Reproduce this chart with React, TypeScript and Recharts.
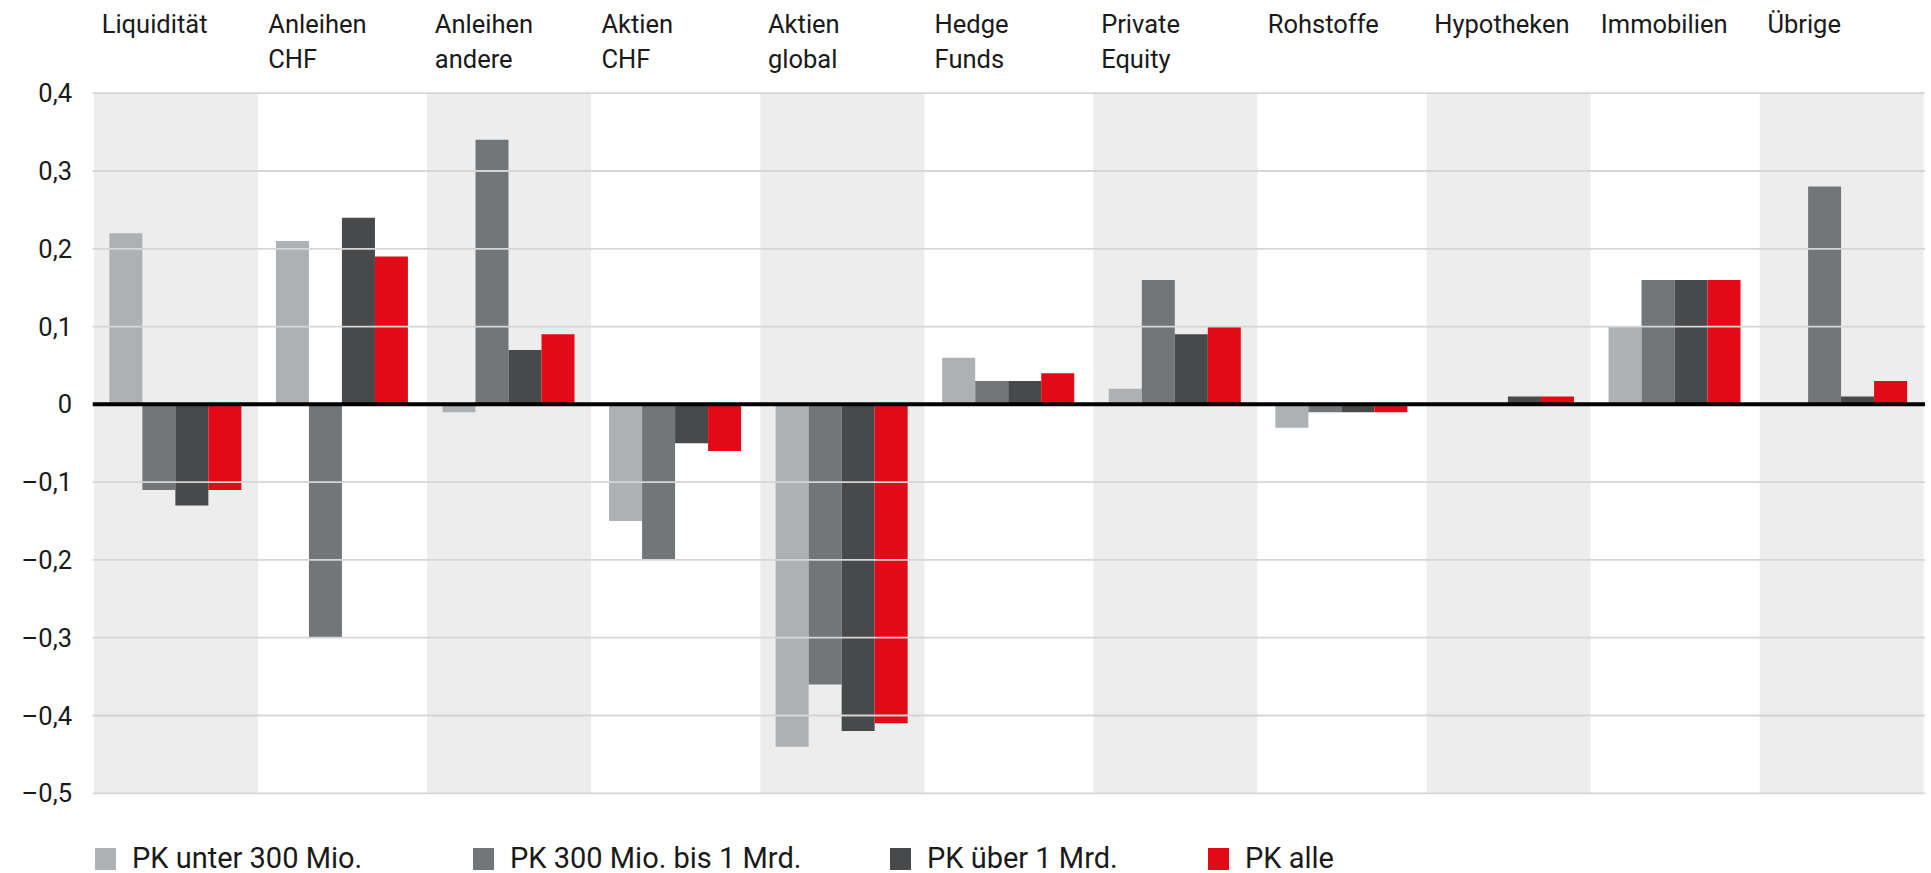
import React from "react";
import {
  BarChart,
  Bar,
  XAxis,
  YAxis,
  ReferenceArea,
  ReferenceLine,
} from "recharts";

const categories = [
  "Liquidität",
  "Anleihen CHF",
  "Anleihen andere",
  "Aktien CHF",
  "Aktien global",
  "Hedge Funds",
  "Private Equity",
  "Rohstoffe",
  "Hypotheken",
  "Immobilien",
  "Übrige",
];

const categoryLabelLines = [
  ["Liquidität"],
  ["Anleihen", "CHF"],
  ["Anleihen", "andere"],
  ["Aktien", "CHF"],
  ["Aktien", "global"],
  ["Hedge", "Funds"],
  ["Private", "Equity"],
  ["Rohstoffe"],
  ["Hypotheken"],
  ["Immobilien"],
  ["Übrige"],
];

const seriesNames = [
  "PK unter 300 Mio.",
  "PK 300 Mio. bis 1 Mrd.",
  "PK über 1 Mrd.",
  "PK alle",
];

const pkUnter300 = [0.22, 0.21, -0.01, -0.15, -0.44, 0.06, 0.02, -0.03, 0, 0.1, 0];
const pk300bis1Mrd = [-0.11, -0.3, 0.34, -0.2, -0.36, 0.03, 0.16, -0.01, 0, 0.16, 0.28];
const pkUeber1Mrd = [-0.13, 0.24, 0.07, -0.05, -0.42, 0.03, 0.09, -0.01, 0.01, 0.16, 0.01];
const pkAlle = [-0.11, 0.19, 0.09, -0.06, -0.41, 0.04, 0.1, -0.01, 0.01, 0.16, 0.03];

const yTicks = [0.4, 0.3, 0.2, 0.1, 0, -0.1, -0.2, -0.3, -0.4, -0.5];

const seriesKeys = ["s1", "s2", "s3", "s4"];
const seriesColors = ["#AEB1B3", "#737679", "#48494B", "#E30A17"];

const data = categories.map((c, i) => ({
  name: c,
  s1: pkUnter300[i],
  s2: pk300bis1Mrd[i],
  s3: pkUeber1Mrd[i],
  s4: pkAlle[i],
}));

const W = 1931;
const H = 873;
const PLOT_LEFT = 92.7;
const PLOT_RIGHT = 1925;
const PLOT_TOP = 93.2;
const PLOT_BOTTOM = 793.3;
const BAND = (PLOT_RIGHT - PLOT_LEFT) / categories.length;
const FONT = "Roboto, 'Open Sans', sans-serif";
const TEXT = "#1a1a1a";
const BAND_FILL = "#EDEDED";

const fmt = (v: number) => {
  if (Math.abs(v) < 1e-9) return "0";
  const s = Math.abs(v).toFixed(1).replace(".", ",");
  return v < 0 ? "\u2013" + s : s;
};

const XTick = (props: any) => {
  const { x, payload } = props;
  const idx = categories.indexOf(payload.value);
  const lines = categoryLabelLines[idx] || [payload.value];
  const startX = x - BAND / 2 + 9;
  return (
    <g>
      {lines.map((l: string, k: number) => (
        <text
          key={k}
          x={startX}
          y={33 + k * 35}
          textAnchor="start"
          fontFamily={FONT}
          fontSize={25.5}
          fill={TEXT}
        >
          {l}
        </text>
      ))}
    </g>
  );
};

const YTick = (props: any) => {
  const { y, payload } = props;
  return (
    <text
      x={72}
      y={y + 9}
      textAnchor="end"
      fontFamily={FONT}
      fontSize={25.5}
      fill={TEXT}
    >
      {fmt(payload.value)}
    </text>
  );
};

const BandShape = (p: any) => (
  <rect
    x={p.x + 1.3}
    y={p.y}
    width={Math.max(0, p.width - 2.6)}
    height={p.height}
    fill={BAND_FILL}
    stroke="none"
  />
);

const legendX = [95, 473, 890, 1208];

export default function App() {
  return (
    <div
      style={{
        position: "absolute",
        left: 0,
        top: 0,
        width: W,
        height: H,
        background: "#fff",
        fontFamily: FONT,
      }}
    >
      <BarChart
        width={W}
        height={H}
        data={data}
        margin={{ top: 0, left: 0, right: W - PLOT_RIGHT, bottom: H - PLOT_BOTTOM }}
        barCategoryGap="10%"
        barGap={0}
      >
        <XAxis
          dataKey="name"
          orientation="top"
          height={PLOT_TOP}
          axisLine={false}
          tickLine={false}
          interval={0}
          tick={<XTick />}
        />
        <YAxis
          type="number"
          domain={[-0.5, 0.4]}
          ticks={yTicks}
          width={PLOT_LEFT}
          axisLine={false}
          tickLine={false}
          interval={0}
          tick={<YTick />}
        />
        {categories
          .filter((_, i) => i % 2 === 0)
          .map((c) => (
            <ReferenceArea
              key={"band-" + c}
              x1={c}
              x2={c}
              y1={-0.5}
              y2={0.4}
              fill={BAND_FILL}
              fillOpacity={1}
              stroke="none"
              ifOverflow="extendDomain"
              shape={BandShape}
            />
          ))}
        {seriesKeys.map((k, i) => (
          <Bar
            key={k}
            dataKey={k}
            name={seriesNames[i]}
            fill={seriesColors[i]}
            isAnimationActive={false}
          />
        ))}
        {yTicks
          .filter((t) => t !== 0)
          .map((t) => (
            <ReferenceLine
              key={"grid-" + t}
              y={t}
              stroke="#D6D6D6"
              strokeWidth={1.8}
            />
          ))}
        <ReferenceLine y={0} stroke="#000000" strokeWidth={4} />
      </BarChart>
      {seriesNames.map((n, i) => (
        <div
          key={n}
          style={{
            position: "absolute",
            left: legendX[i],
            top: 844,
            height: 29,
            display: "flex",
            alignItems: "center",
            whiteSpace: "nowrap",
          }}
        >
          <div
            style={{
              width: 21,
              height: 22,
              background: seriesColors[i],
              marginRight: 16,
            }}
          />
          <span style={{ fontSize: 29, color: TEXT, fontFamily: FONT, lineHeight: "29px" }}>
            {n}
          </span>
        </div>
      ))}
    </div>
  );
}
